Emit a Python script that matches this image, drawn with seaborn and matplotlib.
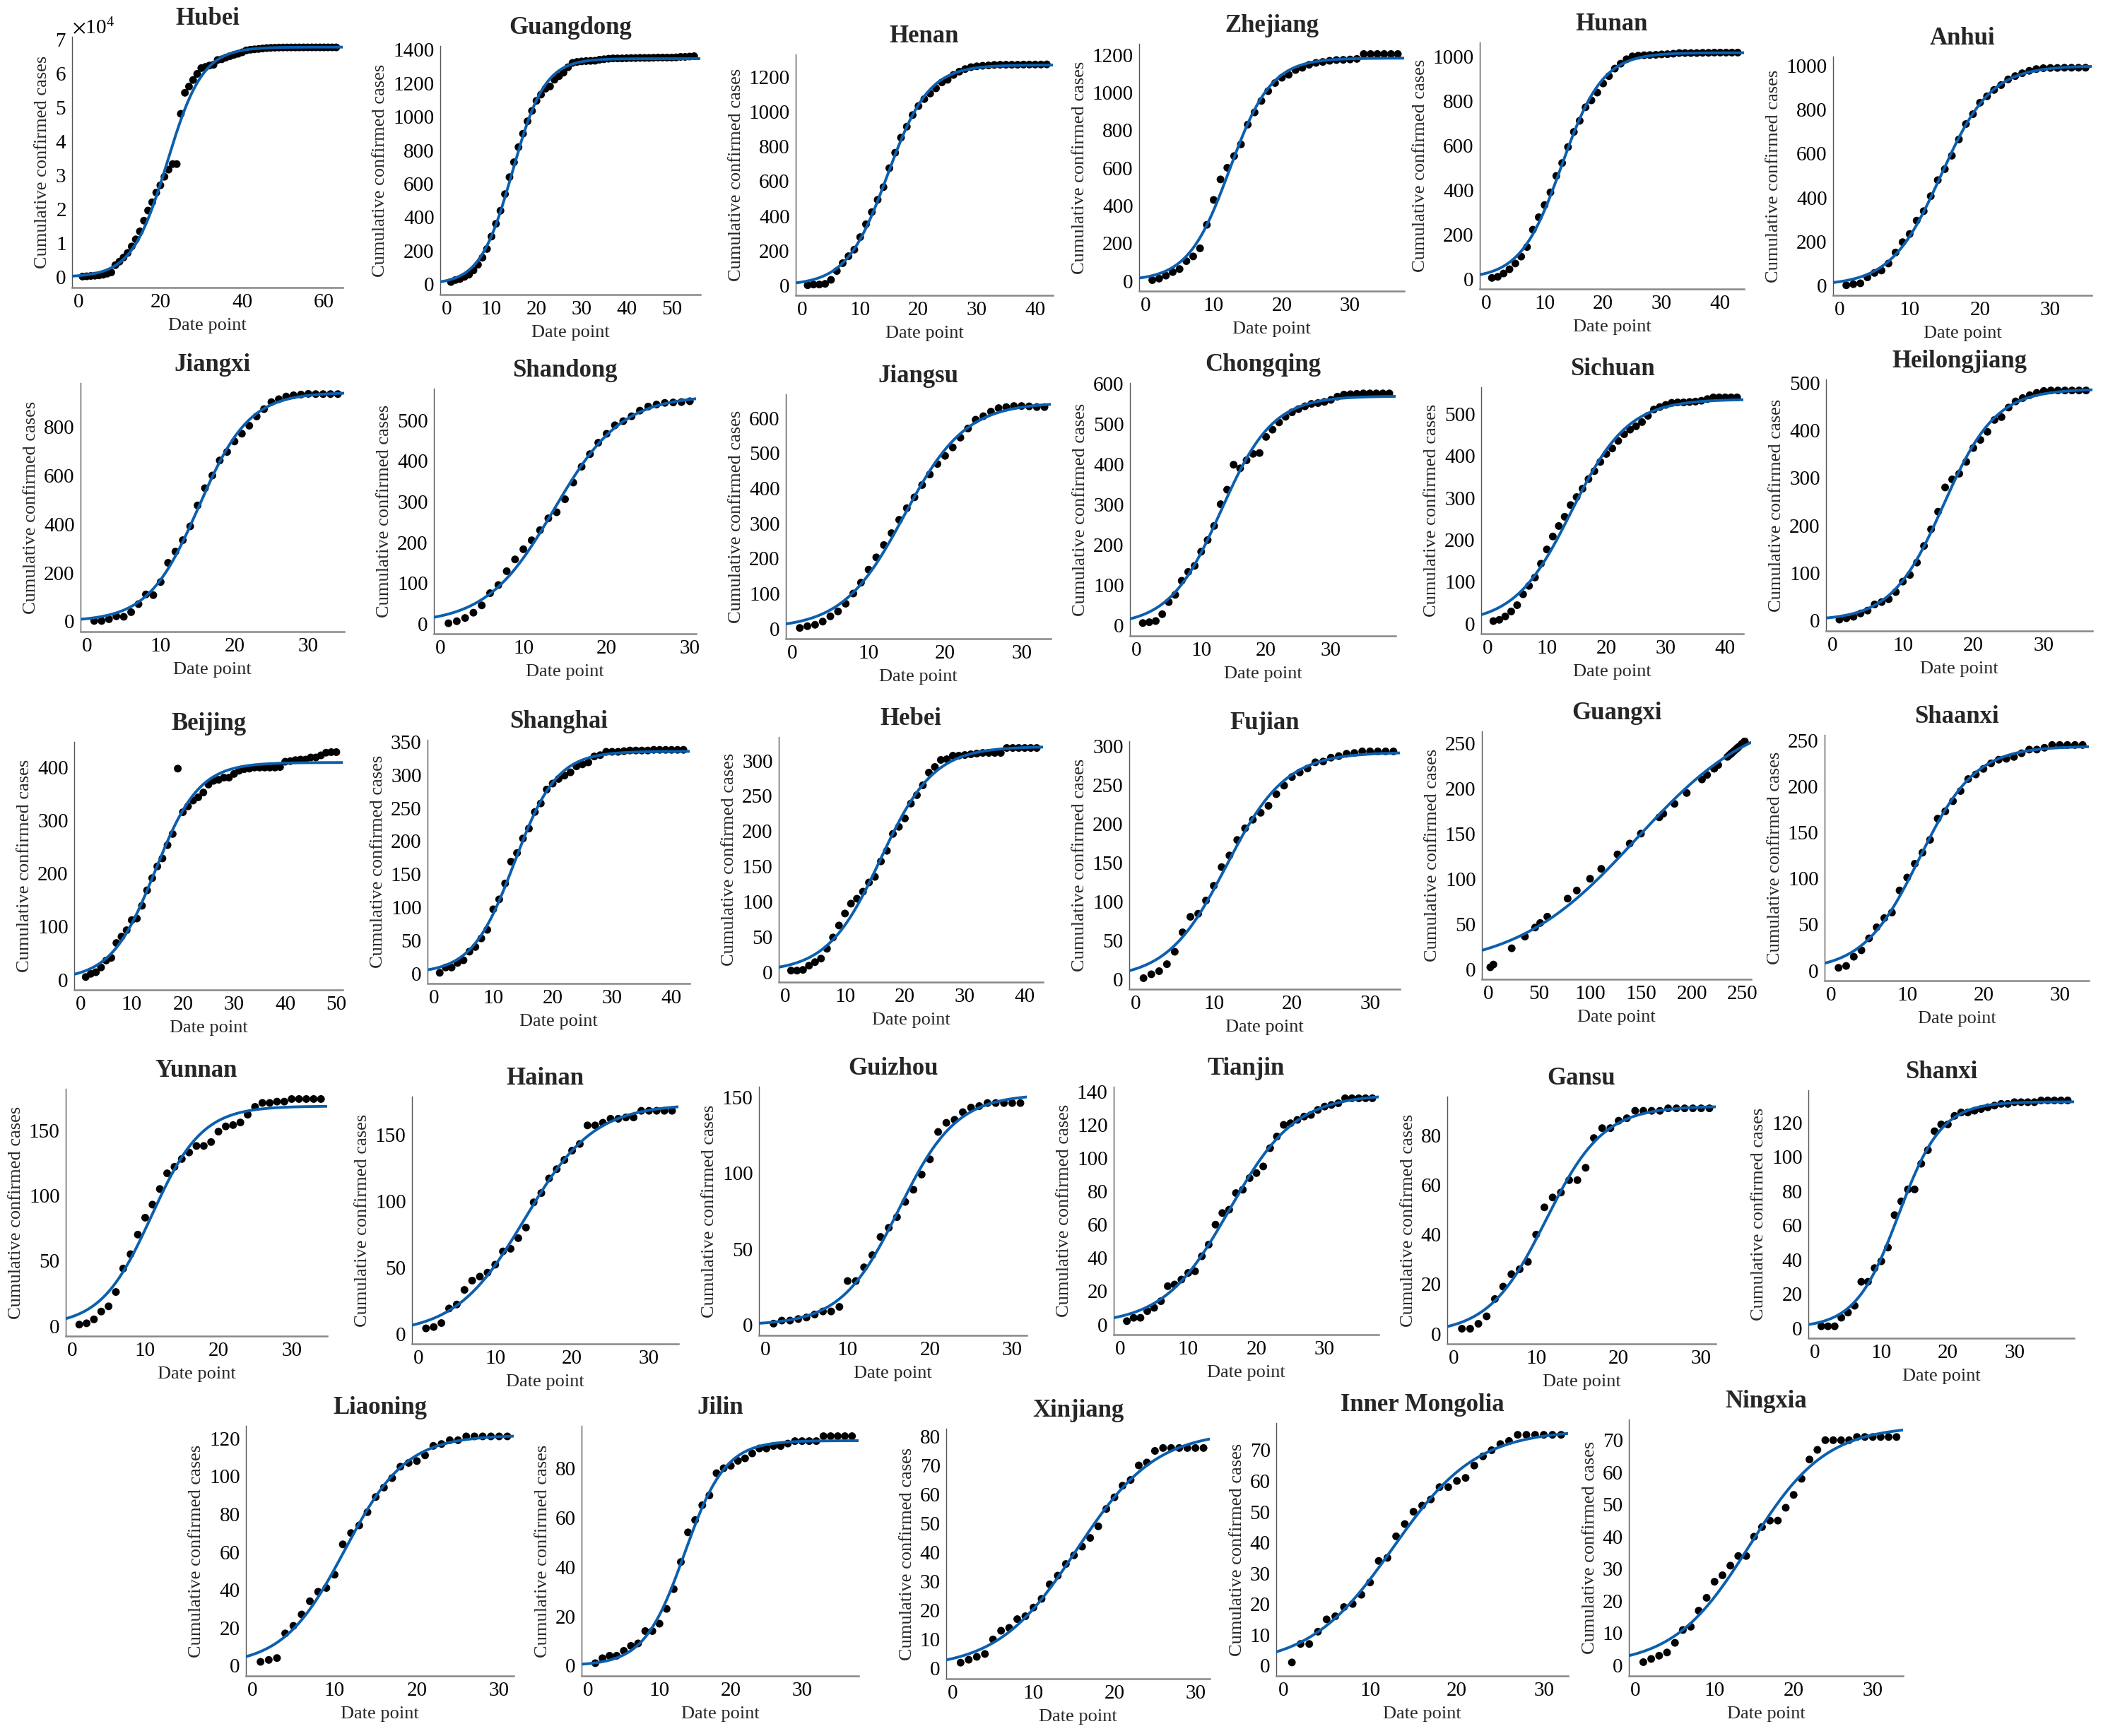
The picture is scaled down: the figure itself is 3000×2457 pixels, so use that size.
import numpy as np
import matplotlib
matplotlib.use("Agg")
import matplotlib.pyplot as plt
from matplotlib.ticker import MultipleLocator
import seaborn as sns

# =========================
# 1. Data (cumulative confirmed cases per date point)
# =========================
hubei = [198, 270, 375, 444, 549, 729, 1052, 1423, 3554, 4586, 5806, 7153, 9074, 11177, 13522,
         16678, 19665, 22112, 24953, 27100, 29631, 31728, 33366, 33366, 48206, 54406, 56249,
         58182, 59989, 61682, 62031, 62442, 62662, 64084, 64287, 64786, 65187, 65596, 65914,
         66337, 66907, 67103, 67217, 67332, 67466, 67592, 67666, 67707, 67743, 67760, 67773,
         67781, 67786, 67790, 67794, 67798, 67799, 67800, 67800, 67800, 67801, 67801, 67801]
guangdong = [14, 26, 32, 45, 58, 83, 117, 159, 211, 285, 361, 439, 538, 639, 728, 818, 898, 972,
             1034, 1094, 1131, 1166, 1180, 1220, 1241, 1262, 1294, 1320, 1326, 1329, 1331, 1332,
             1333, 1339, 1342, 1345, 1347, 1347, 1347, 1348, 1349, 1349, 1350, 1350, 1350, 1351,
             1352, 1352, 1352, 1352, 1353, 1356, 1356, 1358, 1360]
henan = [1, 5, 5, 9, 32, 83, 128, 168, 206, 278, 352, 422, 493, 566, 675, 764, 851, 914, 981,
         1033, 1073, 1105, 1135, 1169, 1184, 1212, 1231, 1246, 1257, 1262, 1265, 1267, 1270,
         1271, 1271, 1271, 1271, 1272, 1272, 1272, 1272, 1273]
zhejiang = [4, 12, 28, 47, 63, 105, 130, 173, 298, 430, 539, 601, 663, 725, 830, 895, 956, 1008,
            1051, 1079, 1095, 1120, 1132, 1148, 1158, 1163, 1169, 1173, 1174, 1176, 1179, 1205,
            1205, 1205, 1205, 1205, 1205]
hunan = [4, 9, 24, 43, 69, 100, 143, 221, 277, 332, 389, 463, 521, 593, 661, 711, 772, 803, 838,
         879, 912, 946, 968, 988, 1001, 1004, 1006, 1007, 1008, 1010, 1011, 1013, 1016, 1016,
         1016, 1016, 1017, 1017, 1018, 1018, 1018, 1018, 1018]
anhui = [1, 6, 10, 37, 57, 68, 100, 150, 197, 234, 295, 338, 406, 479, 529, 590, 664, 734, 779,
         831, 860, 889, 911, 937, 952, 965, 976, 984, 988, 989, 989, 990, 990, 990, 990]
jiangxi = [2, 2, 9, 21, 19, 38, 71, 111, 108, 162, 241, 287, 334, 391, 477, 548, 600, 662, 697,
           740, 772, 805, 843, 873, 902, 914, 925, 930, 933, 936, 935, 935, 935, 935]
shandong = [1, 6, 14, 27, 45, 75, 95, 129, 158, 183, 205, 230, 259, 274, 306, 347, 386, 417, 445,
            467, 488, 498, 510, 524, 534, 539, 543, 544, 545, 547]
jiangsu = [2, 7, 11, 20, 35, 49, 71, 100, 131, 168, 203, 238, 272, 310, 343, 374, 409, 439, 469,
           492, 516, 544, 570, 595, 605, 618, 628, 631, 634, 634, 633, 631, 631]
chongqing = [6, 8, 11, 28, 58, 76, 111, 133, 148, 183, 212, 247, 301, 337, 399, 390, 410, 426,
             428, 468, 486, 504, 518, 529, 537, 544, 550, 552, 555, 560, 568, 573, 574, 575, 576,
             576, 576, 576, 576]
sichuan = [6, 9, 17, 29, 44, 70, 90, 110, 143, 177, 208, 233, 255, 283, 302, 322, 345, 364, 386,
           405, 418, 436, 452, 463, 471, 481, 496, 511, 517, 522, 527, 528, 528, 529, 530, 532,
           536, 540, 540, 540, 540, 540]
heilongjiang = [2, 5, 8, 15, 21, 34, 39, 45, 60, 82, 96, 122, 157, 192, 229, 280, 297, 309, 334,
                363, 380, 397, 422, 428, 448, 461, 468, 474, 479, 483, 484, 484, 484, 484, 484, 484]
beijing = [5, 11, 14, 23, 36, 41, 69, 81, 93, 112, 115, 139, 168, 191, 213, 228, 253, 274, 397,
           315, 326, 337, 343, 352, 367, 374, 376, 380, 380, 387, 393, 396, 397, 399, 399, 399,
           399, 399, 400, 410, 411, 413, 414, 414, 418, 418, 422, 427, 428, 428]
shanghai = [1, 9, 9, 16, 20, 33, 40, 53, 66, 97, 112, 136, 169, 182, 204, 219, 244, 257, 278,
            287, 294, 299, 304, 313, 316, 319, 328, 330, 335, 335, 335, 336, 337, 337, 337, 337,
            338, 338, 338, 338, 338, 338]
hebei = [2, 2, 3, 9, 14, 19, 33, 49, 66, 83, 97, 104, 114, 127, 135, 157, 172, 196, 206, 218,
         239, 251, 265, 283, 291, 301, 302, 307, 307, 308, 309, 310, 311, 311, 311, 311, 318, 318,
         318, 318, 318, 318]
fujian = [1, 6, 10, 19, 35, 60, 80, 84, 101, 120, 144, 159, 179, 194, 205, 214, 223, 238, 249,
          260, 266, 271, 279, 280, 285, 287, 290, 291, 293, 293, 293, 293, 293]
# Guangxi was plotted against its own counts on the date axis
guangxi = [2, 5, 23, 36, 46, 51, 58, 78, 87, 100, 111, 127, 139, 150, 168, 172, 183, 195, 210,
           215, 222, 222, 226, 235, 237, 238, 239, 240, 242, 244, 245, 246, 249, 249, 251, 252, 252]
guangxi_dates = list(guangxi)
shaanxi = [3, 5, 15, 22, 35, 47, 57, 63, 87, 101, 116, 128, 142, 165, 173, 184, 195, 208, 213,
           219, 225, 229, 230, 232, 236, 240, 240, 242, 245, 245, 245, 245, 245]
yunnan = [1, 2, 5, 11, 15, 26, 44, 55, 70, 83, 93, 105, 117, 122, 128, 133, 138, 138, 141, 149,
          153, 154, 156, 162, 168, 171, 171, 172, 172, 174, 174, 174, 174, 174]
hainan = [4, 5, 8, 19, 22, 33, 40, 43, 46, 52, 62, 64, 72, 80, 99, 106, 117, 124, 131, 138, 143,
          157, 157, 159, 162, 162, 163, 163, 168, 168, 168, 168, 168]
guizhou = [1, 3, 3, 4, 5, 7, 9, 9, 12, 29, 29, 38, 46, 58, 64, 71, 81, 89, 99, 109, 127, 133, 135,
           140, 143, 144, 146, 146, 146, 146, 146]
tianjin = [2, 4, 4, 8, 10, 14, 23, 24, 27, 31, 32, 41, 48, 60, 67, 69, 79, 81, 88, 91, 95, 106,
           113, 120, 121, 123, 125, 126, 129, 131, 132, 133, 136, 136, 136, 136, 136]
gansu = [2, 2, 4, 7, 14, 19, 24, 26, 29, 40, 51, 55, 57, 62, 62, 67, 79, 83, 83, 86, 87, 90, 90,
         90, 90, 91, 91, 91, 91, 91, 91]
shanxi = [1, 1, 1, 6, 9, 13, 27, 27, 35, 39, 47, 66, 74, 81, 81, 96, 104, 115, 119, 119, 124, 126,
          126, 127, 128, 129, 130, 131, 131, 132, 132, 132, 132, 133, 133, 133, 133, 133]
liaoning = [2, 3, 4, 17, 21, 27, 34, 39, 41, 48, 64, 70, 74, 81, 89, 94, 99, 105, 107, 108, 111,
            116, 117, 119, 119, 121, 121, 121, 121, 121, 121]
jilin = [1, 3, 4, 4, 6, 8, 9, 14, 14, 17, 23, 31, 42, 54, 59, 65, 69, 78, 80, 81, 83, 84, 86, 88,
         88, 89, 89, 90, 91, 91, 91, 91, 93, 93, 93, 93, 93]
xinjiang = [2, 3, 4, 5, 10, 13, 14, 17, 18, 21, 24, 29, 32, 36, 39, 42, 45, 49, 55, 59, 63, 65,
            70, 71, 75, 76, 76, 76, 76, 76, 76]
inner_mongolia = [1, 7, 7, 11, 15, 16, 19, 20, 23, 27, 34, 35, 42, 46, 50, 52, 54, 58, 58, 60,
                  61, 65, 68, 70, 72, 73, 75, 75, 75, 75, 75, 75]
ningxia = [1, 2, 3, 4, 7, 11, 12, 17, 21, 26, 28, 31, 34, 34, 40, 43, 45, 45, 49, 53, 58, 64, 67,
           70, 70, 70, 70, 71, 71, 71, 71, 71, 71]

# name, counts, date values (None -> 1..N), y tick step, x tick step
panels = [
    ("Hubei", hubei, None, 10000, 20), ("Guangdong", guangdong, None, 200, 10),
    ("Henan", henan, None, 200, 10), ("Zhejiang", zhejiang, None, 200, 10),
    ("Hunan", hunan, None, 200, 10), ("Anhui", anhui, None, 200, 10),
    ("Jiangxi", jiangxi, None, 200, 10), ("Shandong", shandong, None, 100, 10),
    ("Jiangsu", jiangsu, None, 100, 10), ("Chongqing", chongqing, None, 100, 10),
    ("Sichuan", sichuan, None, 100, 10), ("Heilongjiang", heilongjiang, None, 100, 10),
    ("Beijing", beijing, None, 100, 10), ("Shanghai", shanghai, None, 50, 10),
    ("Hebei", hebei, None, 50, 10), ("Fujian", fujian, None, 50, 10),
    ("Guangxi", guangxi, guangxi_dates, 50, 50), ("Shaanxi", shaanxi, None, 50, 10),
    ("Yunnan", yunnan, None, 50, 10), ("Hainan", hainan, None, 50, 10),
    ("Guizhou", guizhou, None, 50, 10), ("Tianjin", tianjin, None, 20, 10),
    ("Gansu", gansu, None, 20, 10), ("Shanxi", shanxi, None, 20, 10),
    ("Liaoning", liaoning, None, 20, 10), ("Jilin", jilin, None, 20, 10),
    ("Xinjiang", xinjiang, None, 10, 10), ("Inner Mongolia", inner_mongolia, None, 10, 10),
    ("Ningxia", ningxia, None, 10, 10),
]

# axes boxes in pixels (left, top, right, bottom) on the 3000 x 2457 canvas
boxes = [
    (102, 52, 485, 407), (623, 65, 991, 417), (1126, 77, 1490, 418),
    (1612, 62, 1987, 412), (2094, 60, 2468, 409), (2594, 80, 2960, 418),
    (114, 542, 487, 894), (614, 550, 985, 897), (1112, 558, 1487, 904),
    (1599, 542, 1975, 900), (2096, 548, 2467, 897), (2584, 537, 2961, 893),
    (105, 1050, 485, 1401), (605, 1047, 976, 1392), (1102, 1043, 1476, 1390),
    (1598, 1049, 1981, 1400), (2097, 1035, 2478, 1386), (2582, 1040, 2956, 1388),
    (93, 1541, 463, 1891), (583, 1552, 960, 1902), (1074, 1538, 1453, 1890),
    (1576, 1538, 1951, 1889), (2048, 1552, 2428, 1902), (2559, 1543, 2935, 1894),
    (348, 2018, 727, 2372), (823, 2018, 1215, 2372), (1339, 2022, 1712, 2376),
    (1806, 2014, 2219, 2372), (2305, 2009, 2693, 2372),
]

W, H = 3000, 2457
BLUE = "#0b5fae"


# =========================
# 2. Logistic fit (grid search, K solved in closed form)
# =========================
def fit_logistic(x, y):
    r_grid = np.geomspace(0.003, 1.5, 260)
    t_grid = np.linspace(x.min(), x.max() * 1.3, 260)
    for _ in range(2):
        R, T = np.meshgrid(r_grid, t_grid, indexing="ij")
        with np.errstate(over="ignore"):
            F = 1.0 / (1.0 + np.exp(-R[..., None] * (x - T[..., None])))
        K = (F * y).sum(-1) / (F * F).sum(-1)
        sse = ((y - K[..., None] * F) ** 2).sum(-1)
        i, j = np.unravel_index(np.argmin(sse), sse.shape)
        best = (K[i, j], R[i, j], T[i, j])
        # zoom the grid around the best point
        ri = r_grid[max(i - 2, 0)], r_grid[min(i + 2, len(r_grid) - 1)]
        tj = t_grid[max(j - 2, 0)], t_grid[min(j + 2, len(t_grid) - 1)]
        r_grid = np.linspace(ri[0], ri[1], 120)
        t_grid = np.linspace(tj[0], tj[1], 120)
    return best


def logistic(t, K, r, t0):
    return K / (1.0 + np.exp(-r * (t - t0)))


# =========================
# 3. Plot
# =========================
sns.set_style("white")
plt.rcParams["font.family"] = ["Liberation Serif", "DejaVu Serif"]
plt.rcParams["mathtext.fontset"] = "stix"

fig = plt.figure(figsize=(W / 100, H / 100), dpi=100)

for (name, counts, dates, ystep, xstep), (l, t, r, b) in zip(panels, boxes):
    y = np.array(counts, dtype=float)
    x = np.array(dates, dtype=float) if dates is not None else np.arange(1, len(y) + 1, dtype=float)

    ax = fig.add_axes([l / W, 1 - b / H, (r - l) / W, (b - t) / H])

    K, rate, t0 = fit_logistic(x, y)
    pad = 0.025 * x.max()
    xlo, xhi = -pad, x.max() + pad
    xc = np.linspace(xlo, xhi, 400)
    yc = logistic(xc, K, rate, t0)

    sns.scatterplot(x=x, y=y, ax=ax, color="black", s=62, edgecolor="none", zorder=2)
    sns.lineplot(x=xc, y=yc, ax=ax, color=BLUE, linewidth=2.8, zorder=3)

    top = max(y.max(), yc.max())
    ax.set_xlim(xlo, xhi)
    ax.set_ylim(-0.045 * top, 1.045 * top)
    ax.xaxis.set_major_locator(MultipleLocator(xstep))
    ax.yaxis.set_major_locator(MultipleLocator(ystep))
    if name == "Hubei":
        ax.ticklabel_format(axis="y", style="sci", scilimits=(4, 4), useMathText=True)
        ax.yaxis.get_offset_text().set_fontsize(21)

    ax.set_title(name, fontsize=25, fontweight="bold", pad=12)
    ax.set_xlabel("Date point", fontsize=19, labelpad=6)
    ax.set_ylabel("Cumulative confirmed cases", fontsize=19, labelpad=5)

    sns.despine(ax=ax)
    ax.spines["left"].set_color("#555555")
    ax.spines["left"].set_linewidth(1.0)
    ax.spines["bottom"].set_color("#888888")
    ax.spines["bottom"].set_linewidth(1.8)
    ax.tick_params(direction="in", length=5, width=1, colors="#555555", labelcolor="black",
                   labelsize=21, pad=6)

fig.savefig("out.png", dpi=100, facecolor="white")
